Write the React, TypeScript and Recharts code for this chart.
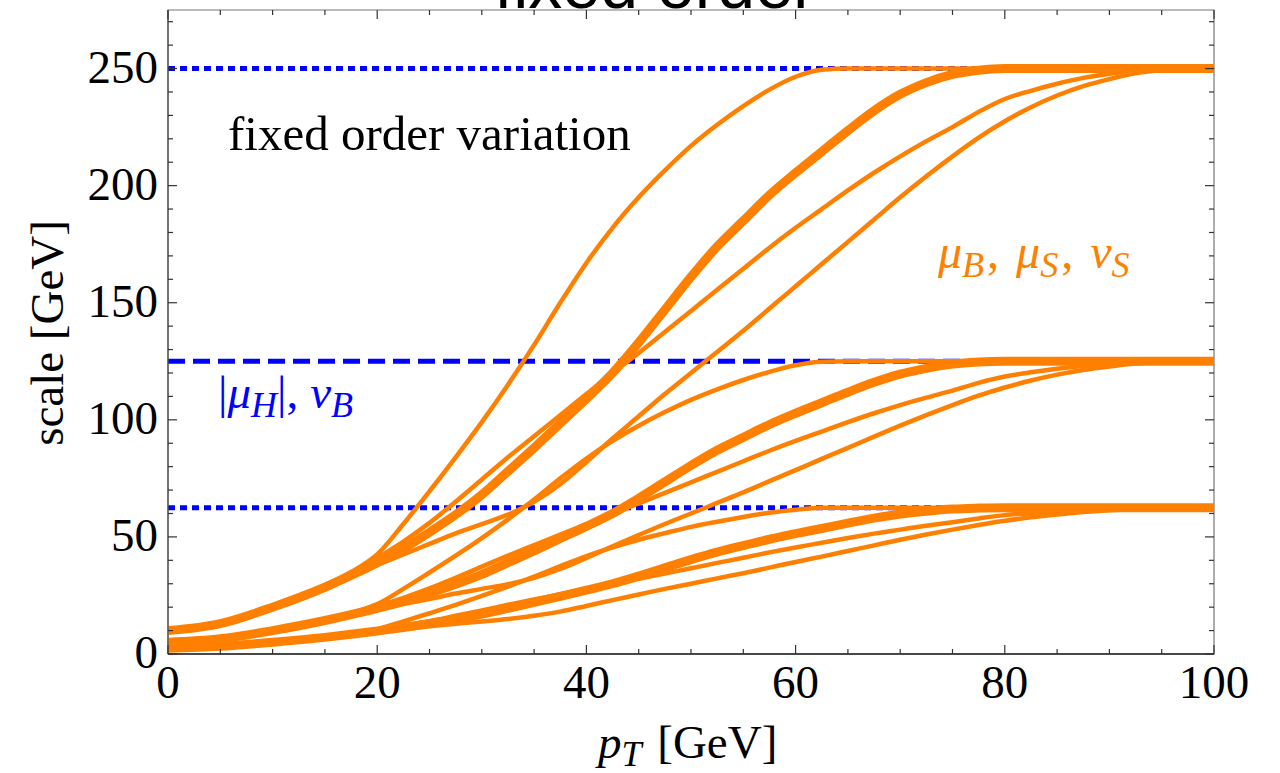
import React from "react";
import { LineChart, Line, XAxis, YAxis, ReferenceArea } from "recharts";

// pT grid shared by every profile curve
const pT = [
  0, 5, 10, 15, 17.5, 20, 22.5, 25, 27.5, 30, 32.5, 35, 37.5, 40, 42.5, 45, 47.5, 50,
  52.5, 55, 57.5, 60, 62.5, 65, 67.5, 70, 72.5, 75, 77.5, 80, 82.5, 85, 87.5, 90,
  92.5, 95, 97.5, 100,
];

// upper family (-> 250)
const hiA = [10, 13, 20, 29.5, 35, 42.5, 55.5, 69.5, 84, 99, 115, 132, 150, 167, 182, 195, 206.5, 217, 226, 234, 241, 246.5, 249.5, 250, 250, 250, 250, 250, 250, 250, 250, 250, 250, 250, 250, 250, 250, 250];
const hiB = [10, 13, 20, 28.5, 33.5, 39, 45, 52, 59.5, 68, 78, 88, 98.5, 109, 120, 133, 147, 161, 174, 185, 196, 205.5, 214.5, 223.5, 232, 239, 244, 247.5, 249.3, 250, 250, 250, 250, 250, 250, 250, 250, 250];
const hiC = [10, 13, 20, 29, 34.5, 41, 48, 56, 65, 74.5, 84, 93, 102, 111, 120, 128.5, 137.5, 146.5, 155.5, 164.5, 173.5, 182, 190, 198, 205.5, 212.5, 219, 225, 231.5, 237, 240.5, 243.5, 246, 247.8, 249.2, 250, 250, 250];
const hiD = [10, 13, 20, 28.5, 33.5, 38, 42.5, 47, 51.5, 55.5, 59.5, 65, 72.5, 82, 92, 101.5, 111, 120, 129, 138, 147.5, 157, 166.5, 176, 185.5, 195, 204, 212.5, 220.5, 227.5, 233.5, 238.5, 242.5, 245.5, 248, 249.4, 250, 250];

// middle family (-> 125)
const midA = [5, 6.5, 10, 14.8, 17.5, 21.3, 27.8, 34.8, 42, 49.5, 57.5, 66, 75, 83.5, 91, 97.5, 103.3, 108.5, 113, 117, 120.5, 123.3, 124.8, 125, 125, 125, 125, 125, 125, 125, 125, 125, 125, 125, 125, 125, 125, 125];
const midB = [5, 6.5, 10, 14.3, 16.8, 19.5, 22.5, 26, 29.8, 34, 39, 44, 49.3, 54.5, 60, 66.5, 73.5, 80.5, 87, 92.5, 98, 102.8, 107.3, 111.8, 116, 119.5, 122, 123.8, 124.7, 125, 125, 125, 125, 125, 125, 125, 125, 125];
const midC = [5, 6.5, 10, 14.5, 17.3, 20.5, 24, 28, 32.5, 37.3, 42, 46.5, 51, 55.5, 60, 64.3, 68.8, 73.3, 77.8, 82.3, 86.8, 91, 95, 99, 102.8, 106.3, 109.5, 112.5, 115.8, 118.5, 120.3, 121.8, 123, 123.9, 124.6, 125, 125, 125];
const midD = [5, 6.5, 10, 14.3, 16.8, 19, 21.3, 23.5, 25.8, 27.8, 29.8, 32.5, 36.3, 41, 46, 50.8, 55.5, 60, 64.5, 69, 73.8, 78.5, 83.3, 88, 92.8, 97.5, 102, 106.3, 110.3, 113.8, 116.8, 119.3, 121.3, 122.8, 124, 124.7, 125, 125];

// lower family (-> 62.5)
const loA = [2.5, 3.3, 5, 7.4, 8.8, 10.6, 13.9, 17.4, 21, 24.8, 28.8, 33, 37.5, 41.8, 45.5, 48.8, 51.6, 54.3, 56.5, 58.5, 60.3, 61.6, 62.4, 62.5, 62.5, 62.5, 62.5, 62.5, 62.5, 62.5, 62.5, 62.5, 62.5, 62.5, 62.5, 62.5, 62.5, 62.5];
const loB = [2.5, 3.3, 5, 7.1, 8.4, 9.8, 11.3, 13, 14.9, 17, 19.5, 22, 24.6, 27.3, 30, 33.3, 36.8, 40.3, 43.5, 46.3, 49, 51.4, 53.6, 55.9, 58, 59.8, 61, 61.9, 62.3, 62.5, 62.5, 62.5, 62.5, 62.5, 62.5, 62.5, 62.5, 62.5];
const loC = [2.5, 3.3, 5, 7.3, 8.6, 10.3, 12, 14, 16.3, 18.6, 21, 23.3, 25.5, 27.8, 30, 32.1, 34.4, 36.6, 38.9, 41.1, 43.4, 45.5, 47.5, 49.5, 51.4, 53.1, 54.8, 56.3, 57.9, 59.3, 60.1, 60.9, 61.5, 62, 62.3, 62.5, 62.5, 62.5];
const loD = [2.5, 3.3, 5, 7.1, 8.4, 9.5, 10.6, 11.8, 12.9, 13.9, 14.9, 16.3, 18.1, 20.5, 23, 25.4, 27.8, 30, 32.3, 34.5, 36.9, 39.3, 41.6, 44, 46.4, 48.8, 51, 53.1, 55.1, 56.9, 58.4, 59.6, 60.6, 61.4, 62, 62.4, 62.5, 62.5];

// fixed scales |mu_H|, nu_B
const hardX = [0, 100];
const hardLevels = [250, 125, 62.5];

const xTicks = [0, 5, 10, 15, 20, 25, 30, 35, 40, 45, 50, 55, 60, 65, 70, 75, 80, 85, 90, 95, 100];
const xMajor = [0, 20, 40, 60, 80, 100];
const yTicks = [0, 10, 20, 30, 40, 50, 60, 70, 80, 90, 100, 110, 120, 130, 140, 150, 160, 170, 180, 190, 200, 210, 220, 230, 240, 250, 260, 270];
const yMajor = [0, 50, 100, 150, 200, 250];

const W = 1280;
const H = 773;
const PLOT_TOP = 10;
const PLOT_RIGHT = 1214;
const ORANGE = "#FF8000";
const BLUE = "#0000FF";
const SERIF = "'Liberation Serif', 'Times New Roman', serif";

const toSeries = (ys: number[]) => pT.map((x, i) => ({ x, y: ys[i] }));
const families = [
  [hiA, hiB, hiC, hiD],
  [midA, midB, midC, midD],
  [loA, loB, loC, loD],
];

function XTick(props: any) {
  const { x, y, payload } = props;
  const v = payload.value;
  const major = xMajor.includes(v);
  const len = major ? 9 : 5;
  return (
    <g>
      <line x1={x} y1={y} x2={x} y2={y - len} stroke="#333" strokeWidth={1.2} />
      <line x1={x} y1={PLOT_TOP} x2={x} y2={PLOT_TOP + len} stroke="#333" strokeWidth={1.2} />
      {major && (
        <text x={x} y={y + 44} textAnchor="middle" fontFamily={SERIF} fontSize={47} fill="#000">
          {v}
        </text>
      )}
    </g>
  );
}

function YTick(props: any) {
  const { x, y, payload } = props;
  const v = payload.value;
  const major = yMajor.includes(v);
  const len = major ? 9 : 5;
  return (
    <g>
      <line x1={x} y1={y} x2={x + len} y2={y} stroke="#333" strokeWidth={1.2} />
      <line x1={PLOT_RIGHT - len} y1={y} x2={PLOT_RIGHT} y2={y} stroke="#333" strokeWidth={1.2} />
      {major && (
        <text x={x - 10} y={y + 14} textAnchor="end" fontFamily={SERIF} fontSize={47} fill="#000">
          {v}
        </text>
      )}
    </g>
  );
}

export default function App() {
  return (
    <div style={{ position: "relative", width: W, height: H, background: "#fff" }}>
      <style>{"body{margin:0}"}</style>
      <LineChart width={W} height={H} margin={{ top: PLOT_TOP, right: W - PLOT_RIGHT, bottom: 0, left: 0 }}>
        <XAxis
          type="number"
          dataKey="x"
          domain={[0, 100]}
          ticks={xTicks}
          interval={0}
          tickSize={0}
          tickMargin={0}
          tickLine={false}
          tick={<XTick />}
          height={119}
          axisLine={{ stroke: "#222", strokeWidth: 1.3 }}
        />
        <YAxis
          type="number"
          domain={[0, 275]}
          ticks={yTicks}
          interval={0}
          tickSize={0}
          tickMargin={0}
          tickLine={false}
          tick={<YTick />}
          width={168}
          axisLine={{ stroke: "#555", strokeWidth: 1.3 }}
        />
        <ReferenceArea x1={0} x2={100} y1={0} y2={275} fill="none" stroke="#777" strokeWidth={1.2} />
        {hardLevels.map((lvl, i) => (
          <Line
            key={`hard-${i}`}
            data={hardX.map((x) => ({ x, y: lvl }))}
            dataKey="y"
            type="linear"
            stroke={BLUE}
            strokeWidth={5}
            strokeDasharray={i === 1 ? "17 8" : "7 5"}
            dot={false}
            activeDot={false}
            isAnimationActive={false}
          />
        ))}
        {families.map((fam, g) =>
          fam.map((ys, k) => (
            <Line
              key={`prof-${g}-${k}`}
              data={toSeries(ys)}
              dataKey="y"
              type="monotone"
              stroke={ORANGE}
              strokeWidth={k === 1 ? 9 : 4.5}
              dot={false}
              activeDot={false}
              isAnimationActive={false}
            />
          ))
        )}
      </LineChart>
      <svg
        width={W}
        height={H}
        style={{ position: "absolute", left: 0, top: 0, pointerEvents: "none" }}
      >
        <text x={655} y={8} textAnchor="middle" fontFamily="'Liberation Sans', Arial, sans-serif" fontSize={68} fill="#000">
          fixed order
        </text>
        <text x={228} y={150} fontFamily={SERIF} fontSize={49} fill="#000">
          fixed order variation
        </text>
        <text x={218} y={408} fontFamily={SERIF} fontSize={47} fill={BLUE}>
          <tspan>|</tspan>
          <tspan fontStyle="italic">μ</tspan>
          <tspan fontStyle="italic" fontSize={36} dy={9}>H</tspan>
          <tspan dy={-9}>|,</tspan>
          <tspan fontStyle="italic" dx={12}>ν</tspan>
          <tspan fontStyle="italic" fontSize={36} dy={9}>B</tspan>
        </text>
        <text x={938} y={268} fontFamily={SERIF} fontSize={48} fill={ORANGE}>
          <tspan fontStyle="italic">μ</tspan>
          <tspan fontStyle="italic" fontSize={36} dy={9}>B</tspan>
          <tspan dy={-9} dx={3}>,</tspan>
          <tspan fontStyle="italic" dx={17}>μ</tspan>
          <tspan fontStyle="italic" fontSize={36} dy={9}>S</tspan>
          <tspan dy={-9} dx={3}>,</tspan>
          <tspan fontStyle="italic" dx={17}>ν</tspan>
          <tspan fontStyle="italic" fontSize={36} dy={9}>S</tspan>
        </text>
        <text x={598} y={758} fontFamily={SERIF} fontSize={47} fill="#000">
          <tspan fontStyle="italic">p</tspan>
          <tspan fontStyle="italic" fontSize={36} dy={8}>T</tspan>
          <tspan dy={-8} dx={4}> [GeV]</tspan>
        </text>
        <text
          x={0}
          y={0}
          transform="translate(63, 333) rotate(-90)"
          textAnchor="middle"
          fontFamily={SERIF}
          fontSize={47}
          fill="#000"
        >
          scale [GeV]
        </text>
      </svg>
    </div>
  );
}
